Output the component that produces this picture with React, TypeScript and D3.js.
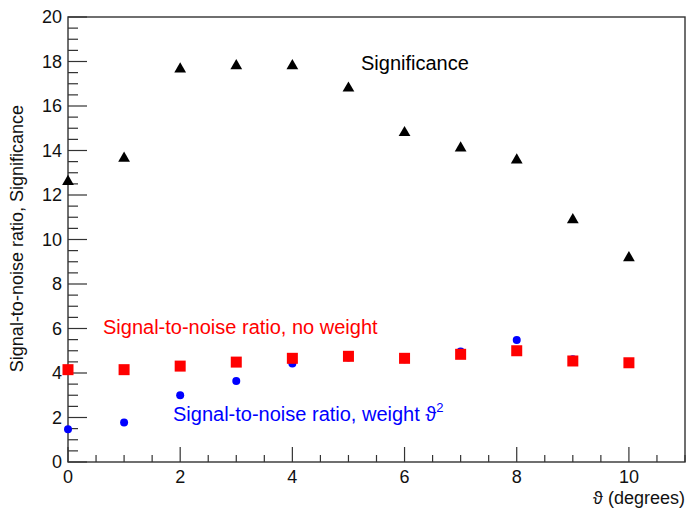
import React from "react";
import * as d3 from "d3";

// angle in degrees
const angles = [0, 1, 2, 3, 4, 5, 6, 7, 8, 9, 10];
const significance = [12.6, 13.65, 17.66, 17.81, 17.81, 16.8, 14.8, 14.11, 13.57, 10.88, 9.18];
const snrNoWeight = [4.15, 4.15, 4.31, 4.49, 4.66, 4.75, 4.66, 4.84, 5.0, 4.54, 4.46];
const snrWeighted = [1.47, 1.77, 3.0, 3.64, 4.43, 4.7, 4.62, 4.97, 5.48, 4.62, 4.42];
const yTickLabels = [0, 2, 4, 6, 8, 10, 12, 14, 16, 18, 20];
const xTickLabels = [0, 2, 4, 6, 8, 10];

const width = 688;
const height = 510;
const margin = { top: 17, right: 2, bottom: 48, left: 68 };
const font = "'Liberation Sans', Arial, Helvetica, sans-serif";

const App = () => {
  const x = d3.scaleLinear().domain([0, 11]).range([margin.left, width - margin.right - 1]);
  const y = d3.scaleLinear().domain([0, 20]).range([height - margin.bottom, margin.top]);

  const x0 = x(0);
  const y0 = y(0);

  // minor ticks every 0.5
  const yMinor = d3.range(0, 20.01, 0.5);
  const xMinor = d3.range(0, 11.01, 0.5);

  const tri = d3.symbol().type(d3.symbolTriangle).size(60)();

  return (
    <svg
      width={width}
      height={height}
      style={{ position: "absolute", left: 0, top: 0, background: "#fff" }}
      fontFamily={font}
    >
      {/* frame */}
      <rect
        x={x0}
        y={y(20)}
        width={x(11) - x0}
        height={y0 - y(20)}
        fill="none"
        stroke="#333"
        strokeWidth={1.4}
      />

      {/* y ticks */}
      {yMinor.map((v) => {
        const major = Math.abs(v % 2) < 1e-6;
        return (
          <line
            key={"ym" + v}
            x1={x0}
            x2={x0 + (major ? 19 : 10)}
            y1={y(v)}
            y2={y(v)}
            stroke="#333"
            strokeWidth={1.2}
          />
        );
      })}
      {yTickLabels.map((v) => (
        <text key={"yl" + v} x={x0 - 6} y={y(v) + 6} textAnchor="end" fontSize={18} fill="#111">
          {v}
        </text>
      ))}

      {/* x ticks */}
      {xMinor.map((v) => {
        const major = Math.abs(v % 2) < 1e-6;
        return (
          <line
            key={"xm" + v}
            x1={x(v)}
            x2={x(v)}
            y1={y0}
            y2={y0 - (major ? 15 : 7)}
            stroke="#333"
            strokeWidth={1.2}
          />
        );
      })}
      {xTickLabels.map((v) => (
        <text key={"xl" + v} x={x(v)} y={y0 + 21} textAnchor="middle" fontSize={18} fill="#111">
          {v}
        </text>
      ))}

      {/* axis titles */}
      <text x={width - 3} y={y0 + 42} textAnchor="end" fontSize={18} fill="#111">
        ϑ (degrees)
      </text>
      <text
        transform={`translate(23, ${margin.top + 88}) rotate(-90)`}
        textAnchor="end"
        fontSize={18}
        fill="#111"
      >
        Signal-to-noise ratio, Significance
      </text>

      {/* significance: triangles */}
      {angles.map((a, i) => (
        <path key={"s" + a} d={tri} transform={`translate(${x(a)}, ${y(significance[i])})`} fill="#000" />
      ))}

      {/* weighted snr: blue circles */}
      {angles.map((a, i) => (
        <circle key={"w" + a} cx={x(a)} cy={y(snrWeighted[i])} r={4} fill="#0000ff" />
      ))}

      {/* unweighted snr: red squares */}
      {angles.map((a, i) => (
        <rect key={"n" + a} x={x(a) - 5.5} y={y(snrNoWeight[i]) - 5.5} width={11} height={11} fill="#ff0000" />
      ))}

      {/* labels */}
      <text x={361} y={70} fontSize={20} fill="#000">
        Significance
      </text>
      <text x={103} y={334} fontSize={20} fill="#ff0000">
        Signal-to-noise ratio, no weight
      </text>
      <text x={173} y={421} fontSize={20} fill="#0000ff">
        Signal-to-noise ratio, weight ϑ
        <tspan fontSize={13} dy={-9}>2</tspan>
      </text>
    </svg>
  );
};

export default App;
